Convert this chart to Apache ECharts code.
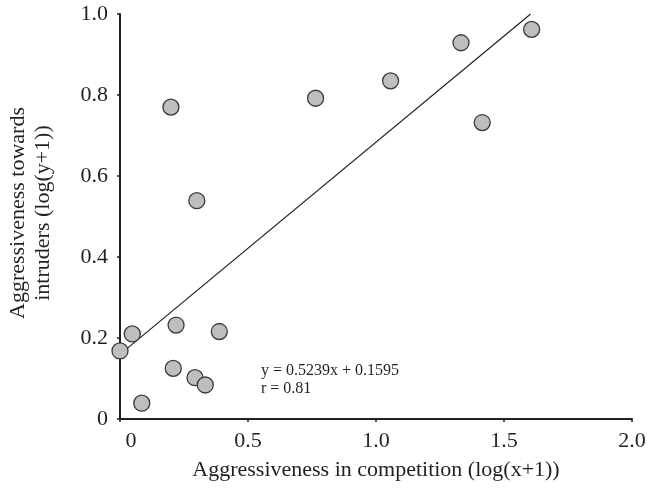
<!DOCTYPE html>
<html>
<head>
<meta charset="utf-8">
<script src="https://cdn.jsdelivr.net/npm/echarts@6/dist/echarts.min.js"></script>
<style>html,body{margin:0;padding:0;background:#fff}#c{width:649px;height:491px}</style>
</head>
<body>
<div id="c"></div>
<script>
var xValues = [0.00, 0.048, 0.219, 0.388, 0.208, 0.293, 0.333, 0.085, 0.199, 0.300, 0.764, 1.057, 1.332, 1.608, 1.415];
var yValues = [0.168, 0.210, 0.232, 0.216, 0.125, 0.102, 0.084, 0.039, 0.770, 0.539, 0.792, 0.835, 0.929, 0.962, 0.732];
var slope = 0.5239;
var intercept = 0.1595;
var fitRange = [0, 1.604];
var xTicks = [0, 0.5, 1.0, 1.5, 2.0];
var yTicks = [0, 0.2, 0.4, 0.6, 0.8, 1.0];

var FONT = '"Liberation Serif", "DejaVu Serif", serif';
var INK = '#231f20';
var pts = xValues.map(function (x, i) { return [x, yValues[i]]; });
var fit = fitRange.map(function (x) { return [x, slope * x + intercept]; });

var chart = echarts.init(document.getElementById('c'));
chart.setOption({
  animation: false,
  backgroundColor: '#fff',
  grid: { left: 120, right: 17, top: 14, bottom: 72 },
  xAxis: {
    type: 'value', min: 0, max: 2.0, interval: 0.5,
    axisLine: { show: true, lineStyle: { color: INK, width: 2 } },
    axisTick: { show: true, length: 3, lineStyle: { color: INK, width: 1.5 } },
    splitLine: { show: false },
    axisLabel: {
      color: INK, fontFamily: FONT, fontSize: 22, margin: 11,
      formatter: function (v) {
        var i = xTicks.indexOf(v);
        if (i < 0) return '';
        return v === 0 ? '{z|0}' : v.toFixed(1);
      },
      rich: { z: { fontFamily: FONT, fontSize: 22, color: INK, padding: [0, 0, 0, 22] } }
    },
    name: 'Aggressiveness in competition (log(x+1))',
    nameLocation: 'middle', nameGap: 40,
    nameTextStyle: { color: INK, fontFamily: FONT, fontSize: 22 }
  },
  yAxis: {
    type: 'value', min: 0, max: 1.0, interval: 0.2,
    axisLine: { show: true, lineStyle: { color: INK, width: 2 } },
    axisTick: { show: true, length: 3, lineStyle: { color: INK, width: 1.5 } },
    splitLine: { show: false },
    axisLabel: {
      color: INK, fontFamily: FONT, fontSize: 22, margin: 12,
      formatter: function (v) {
        var r = Math.round(v * 10) / 10;
        if (yTicks.indexOf(r) < 0) return '';
        return r === 0 ? '0' : r.toFixed(1);
      }
    }
  },
  graphic: [
    {
      type: 'text', x: 31, y: 213, rotation: Math.PI / 2,
      style: {
        text: 'Aggressiveness towards\nintruders (log(y+1))',
        fontFamily: FONT, fontSize: 22, fill: INK,
        align: 'center', verticalAlign: 'middle', lineHeight: 25
      }
    },
    {
      type: 'text', left: 261, top: 362,
      style: {
        text: 'y = 0.5239x + 0.1595\nr = 0.81',
        fontFamily: FONT, fontSize: 16, fill: INK, lineHeight: 18
      }
    }
  ],
  series: [
    {
      type: 'line', data: fit, symbol: 'none', z: 2,
      lineStyle: { color: INK, width: 1.2 }
    },
    {
      type: 'scatter', data: pts, symbolSize: 16, z: 3,
      itemStyle: { color: '#bcbec0', borderColor: '#3a3a3a', borderWidth: 1.3, opacity: 1 }
    }
  ]
});
</script>
</body>
</html>
